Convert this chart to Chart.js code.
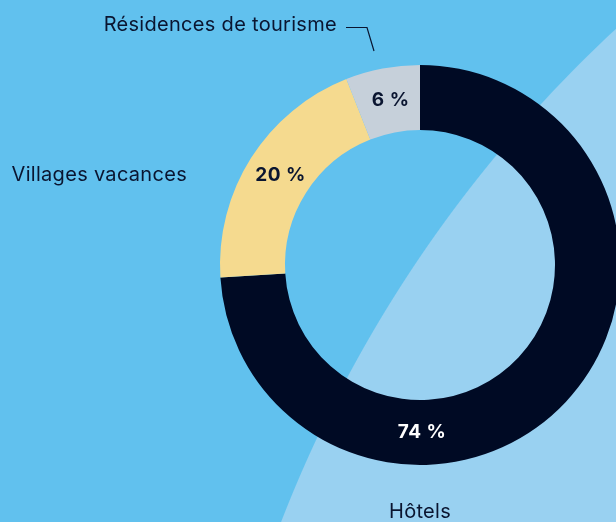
<!DOCTYPE html>
<html lang="fr">
<head>
    <meta charset="UTF-8">
    <title>Hébergements</title>
    <script src="https://cdn.jsdelivr.net/npm/chart.js"></script>
    <style>
        html, body {
            margin: 0;
            padding: 0;
            width: 616px;
            height: 522px;
            overflow: hidden;
            background: radial-gradient(circle at 1517px 1001px, #99d1f1 1325px, #61c1ee 1326px);
        }
        .wrap {
            position: absolute;
            left: 0;
            top: 0;
            width: 640px;
            height: 522px;
        }
    </style>
</head>
<body>
    <div class="wrap"><canvas id="myChart"></canvas></div>
    <script>
        const categories = ['Hôtels', 'Villages vacances', 'Résidences de tourisme'];
        const shares = [74, 20, 6];
        const sliceColors = ['#000a24', '#f5da8f', '#c6d0da'];
        const valueColors = ['#ffffff', '#0a1530', '#0a1530'];
        const textColor = '#0a1530';
        const fontFamily = 'Inter, "Open Sans", sans-serif';

        // values inside the ring + category names around it
        const labelPlugin = {
            id: 'labels',
            afterDraw(chart) {
                const ctx = chart.ctx;
                const arcs = chart.getDatasetMeta(0).data;
                ctx.save();
                ctx.textAlign = 'center';
                ctx.textBaseline = 'middle';
                ctx.font = 'bold 19px ' + fontFamily;
                ctx.letterSpacing = '0.5px';
                arcs.forEach((arc, i) => {
                    const p = arc.getProps(['x', 'y', 'startAngle', 'endAngle', 'innerRadius', 'outerRadius'], true);
                    const r = (p.innerRadius + p.outerRadius) / 2;
                    // the big slice gets its value at the bottom
                    const a = i === 0 ? Math.PI / 2 : (p.startAngle + p.endAngle) / 2;
                    ctx.fillStyle = valueColors[i];
                    ctx.fillText(shares[i] + ' %', p.x + r * Math.cos(a) + 2, p.y + r * Math.sin(a));
                });

                const c = arcs[0].getProps(['x', 'y', 'outerRadius'], true);
                ctx.font = '20px ' + fontFamily;
                ctx.letterSpacing = '0.3px';
                ctx.fillStyle = textColor;
                // Hôtels under the ring
                ctx.fillText(categories[0], c.x, c.y + c.outerRadius + 47);
                // Villages vacances, left
                ctx.textAlign = 'right';
                ctx.fillText(categories[1], 187, 175);
                // Résidences de tourisme, top with leader line
                ctx.fillText(categories[2], 337, 25);
                ctx.strokeStyle = textColor;
                ctx.lineWidth = 1.2;
                ctx.beginPath();
                ctx.moveTo(346, 27.5);
                ctx.lineTo(367, 27.5);
                ctx.lineTo(374, 51);
                ctx.stroke();
                ctx.restore();
            }
        };

        const ctx = document.getElementById('myChart').getContext('2d');
        new Chart(ctx, {
            type: 'doughnut',
            data: {
                labels: categories,
                datasets: [{
                    data: shares,
                    backgroundColor: sliceColors,
                    borderWidth: 0
                }]
            },
            options: {
                responsive: true,
                maintainAspectRatio: false,
                animation: false,
                cutout: '67.5%',
                layout: {
                    padding: { left: 220, top: 65, right: 20, bottom: 57 }
                },
                plugins: {
                    legend: { display: false },
                    tooltip: { enabled: false }
                }
            },
            plugins: [labelPlugin]
        });
    </script>
</body>
</html>
